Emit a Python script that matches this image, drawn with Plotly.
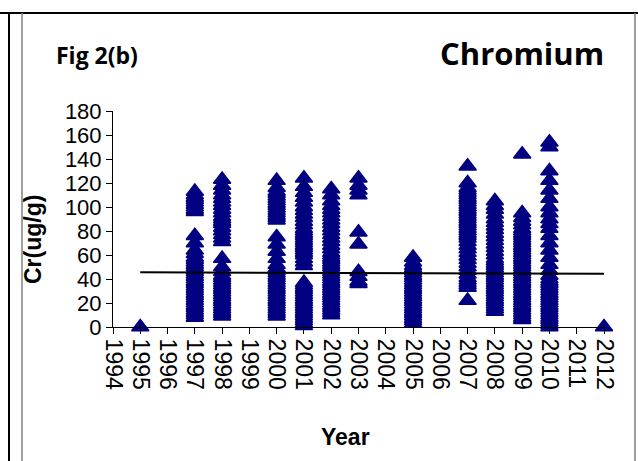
import plotly.graph_objects as go

# ---------------- data ----------------
years = [1995, 1997, 1998, 2000, 2001, 2002, 2003, 2005, 2007, 2008, 2009, 2010, 2012]

cr_1995 = [0]
cr_1997 = [8, 10, 12, 14, 16, 18, 20, 22, 24, 26, 28, 30, 32, 34, 36, 38, 40, 42, 44, 46, 48, 50,
           52, 54, 56, 58, 61, 64, 70, 76, 96, 98, 100, 102, 104, 106, 108, 110, 113]
cr_1998 = [9, 11, 13, 15, 17, 19, 21, 23, 25, 27, 29, 31, 33, 35, 37, 39, 41, 43, 46, 50, 57,
           71, 74, 77, 80, 83, 86, 88, 90, 92, 95, 98, 101, 104, 107, 110, 114, 118, 123]
cr_2000 = [9, 11, 13, 15, 17, 19, 21, 23, 25, 27, 29, 31, 33, 35, 37, 39, 41, 43, 45, 47, 49, 52,
           57, 63, 69, 75, 89, 91, 93, 95, 97, 99, 101, 103, 105, 107, 109, 111, 113, 116, 122]
cr_2001 = [1, 3, 5, 7, 9, 11, 13, 15, 17, 19, 21, 23, 25, 27, 29, 31, 33, 35, 37, 51, 54, 57, 60,
           62, 64, 66, 68, 70, 72, 74, 76, 78, 80, 82, 85, 88, 91, 94, 97, 100, 104, 108, 112, 117, 124]
cr_2002 = [10, 12, 14, 16, 18, 20, 22, 24, 26, 28, 30, 32, 34, 36, 38, 40, 42, 44, 46, 48, 50, 52,
           54, 56, 58, 60, 62, 65, 68, 71, 74, 77, 80, 83, 86, 89, 92, 95, 98, 101, 105, 110, 115]
cr_2003 = [36, 38, 42, 46, 69, 79, 110, 114, 118, 124]
cr_2005 = [3, 5, 7, 9, 11, 13, 15, 17, 19, 21, 23, 25, 27, 29, 31, 33, 35, 37, 39, 41, 43, 45, 47,
           49, 51, 54, 58]
cr_2007 = [22, 33, 35, 37, 39, 41, 44, 47, 50, 53, 56, 59, 62, 65, 68, 71, 74, 76, 78, 80, 82, 84,
           86, 88, 90, 92, 94, 96, 98, 100, 102, 104, 106, 108, 110, 112, 114, 116, 120, 134]
cr_2008 = [13, 15, 17, 19, 21, 23, 25, 27, 29, 31, 33, 35, 37, 39, 41, 43, 45, 47, 49, 51, 53, 55,
           57, 60, 63, 66, 69, 72, 75, 78, 81, 84, 87, 90, 94, 98, 101, 105]
cr_2009 = [6, 8, 10, 12, 14, 16, 18, 20, 22, 24, 26, 28, 30, 32, 34, 36, 38, 40, 42, 44, 46, 48, 50,
           52, 54, 56, 58, 60, 62, 64, 66, 68, 70, 72, 74, 76, 78, 80, 82, 85, 88, 91, 95, 144]
cr_2010 = [0, 2, 4, 6, 8, 10, 12, 14, 16, 18, 20, 22, 24, 26, 28, 30, 32, 34, 36, 38, 40, 43, 47,
           52, 58, 64, 70, 76, 82, 86, 90, 95, 100, 107, 114, 122, 130, 150, 154]
cr_2012 = [0]

series = [cr_1995, cr_1997, cr_1998, cr_2000, cr_2001, cr_2002, cr_2003, cr_2005,
          cr_2007, cr_2008, cr_2009, cr_2010, cr_2012]

trend_x = [1995, 2012]
trend_y = [45.6, 44.3]

x_ticks = list(range(1994, 2013))
y_ticks = [0, 20, 40, 60, 80, 100, 120, 140, 160, 180]

# ---------------- figure ----------------
W, H = 638, 461
L, R, T, B = 113, 34, 111, 134
PW, PH = W - L - R, H - T - B

def px(x):
    return (x - L) / PW

def py(y):
    return (H - B - y) / PH

xs, ys = [], []
for yr, vals in zip(years, series):
    xs += [yr] * len(vals)
    ys += vals

fig = go.Figure()
fig.add_trace(go.Scatter(
    x=xs, y=ys, mode="markers",
    marker=dict(symbol="triangle-up", size=15, color="#000080",
                line=dict(color="#000080", width=1.5)),
    cliponaxis=False, showlegend=False, hoverinfo="x+y"))
fig.add_trace(go.Scatter(
    x=trend_x, y=trend_y, mode="lines",
    line=dict(color="black", width=2), cliponaxis=False, showlegend=False))

arial = "Liberation Sans, Arial, sans-serif"
fig.update_xaxes(range=[1994, 2012], tickmode="array", tickvals=x_ticks,
                 ticktext=[str(v) for v in x_ticks], tickangle=90,
                 showline=True, linecolor="black", linewidth=1,
                 ticks="outside", ticklen=6, tickcolor="black",
                 showgrid=False, zeroline=False,
                 tickfont=dict(family=arial, size=23, color="black"))
fig.update_yaxes(range=[0, 180], tickmode="array", tickvals=y_ticks,
                 showline=True, linecolor="black", linewidth=1,
                 ticks="outside", ticklen=6, tickcolor="black",
                 showgrid=False, zeroline=False,
                 tickfont=dict(family=arial, size=22, color="black"))

title_font = "Open Sans, Lato, sans-serif"
ann = [
    dict(text="<b>Fig 2(b)</b>", x=px(54), y=py(55), xanchor="left", yanchor="middle",
         font=dict(family=title_font, size=23, color="black")),
    dict(text="<b>Chromium</b>", x=px(606), y=py(53), xanchor="right", yanchor="middle",
         font=dict(family=title_font, size=31, color="black")),
    dict(text="<b>Cr(ug/g)</b>", x=px(33), y=py(240), xanchor="center", yanchor="middle",
         textangle=-90, font=dict(family=arial, size=23, color="black")),
    dict(text="<b>Year</b>", x=px(345), y=py(437), xanchor="center", yanchor="middle",
         font=dict(family=arial, size=23, color="black")),
]
for a in ann:
    a.update(xref="paper", yref="paper", showarrow=False)

shapes = [
    dict(type="line", x0=px(0), x1=px(638), y0=py(13), y1=py(13), line=dict(color="black", width=2)),
    dict(type="line", x0=px(9), x1=px(9), y0=py(13), y1=py(461), line=dict(color="black", width=2)),
    dict(type="line", x0=px(22), x1=px(22), y0=py(13), y1=py(461), line=dict(color="#808080", width=1.5)),
    dict(type="line", x0=px(635), x1=px(635), y0=py(13), y1=py(461), line=dict(color="#808080", width=1.5)),
]
for s in shapes:
    s.update(xref="paper", yref="paper", layer="above")

fig.update_layout(width=W, height=H, margin=dict(l=L, r=R, t=T, b=B, autoexpand=False),
                  paper_bgcolor="white", plot_bgcolor="white",
                  annotations=ann, shapes=shapes)

fig.write_html("out.html")
